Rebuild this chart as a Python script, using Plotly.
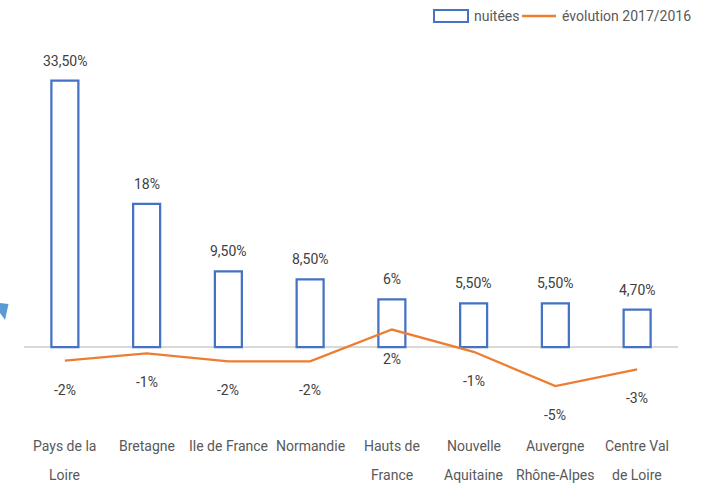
import plotly.graph_objects as go

categories = ["Pays de la<br>Loire", "Bretagne", "Ile de France", "Normandie",
              "Hauts de<br>France", "Nouvelle<br>Aquitaine", "Auvergne<br>Rhône-Alpes",
              "Centre Val<br>de Loire"]
nuitees = [33.5, 18, 9.5, 8.5, 6, 5.5, 5.5, 4.7]
nuitees_labels = ["33,50%", "18%", "9,50%", "8,50%", "6%", "5,50%", "5,50%", "4,70%"]
evolution = [-1.7, -0.8, -1.8, -1.8, 2.2, -0.6, -4.9, -2.8]
evolution_labels = ["-2%", "-1%", "-2%", "-2%", "2%", "-1%", "-5%", "-3%"]
series_names = ["nuitées", "évolution 2017/2016"]

FONT = "Roboto, sans-serif"
BLUE = "#4472C4"
ORANGE = "#ED7D31"

L, R, T, B = 24, 678, 40, 425
W, H = 713, 488

def px2paper(px, py):
    return (px - L) / (R - L), (B - py) / (B - T)

fig = go.Figure()
fig.add_trace(go.Bar(
    x=categories, y=nuitees, name=series_names[0],
    marker=dict(color="white", line=dict(color=BLUE, width=2.25)),
    width=0.33,
))
fig.add_trace(go.Scatter(
    x=categories, y=evolution, name=series_names[1], mode="lines",
    line=dict(color=ORANGE, width=2.25),
))

annotations = []
for c, v, t in zip(categories, nuitees, nuitees_labels):
    annotations.append(dict(x=c, y=v, text=t, showarrow=False, yshift=20,
                            font=dict(family=FONT, size=14, color="#404040")))
for c, v, t in zip(categories, evolution, evolution_labels):
    annotations.append(dict(x=c, y=v, text=t, showarrow=False, yshift=-29,
                            font=dict(family=FONT, size=14, color="#404040")))

# category labels (wide line spacing as in the original)
for c in categories:
    for i, line in enumerate(c.split("<br>")):
        _, yp = px2paper(0, 446 + 29 * i)
        annotations.append(dict(x=c, xref="x", yref="paper", y=yp, yanchor="middle",
                                text=line, showarrow=False,
                                font=dict(family=FONT, size=14, color="#595959")))

# custom legend
lx0, ly0 = px2paper(434, 10)
lx1, ly1 = px2paper(468, 22)
tx, ty = px2paper(472, 16)
ox0, oy = px2paper(522, 16)
ox1, _ = px2paper(556, 16)
t2x, _ = px2paper(560, 16)
shapes = [
    dict(type="rect", xref="paper", yref="paper", x0=lx0, y0=ly0, x1=lx1, y1=ly1,
         line=dict(color=BLUE, width=2), fillcolor="white"),
    dict(type="line", xref="paper", yref="paper", x0=ox0, y0=oy, x1=ox1, y1=oy,
         line=dict(color=ORANGE, width=2.5)),
]
annotations.append(dict(xref="paper", yref="paper", x=tx, y=ty, xanchor="left", yanchor="middle",
                        text=series_names[0], showarrow=False,
                        font=dict(family=FONT, size=14, color="#595959")))
annotations.append(dict(xref="paper", yref="paper", x=t2x, y=ty, xanchor="left", yanchor="middle",
                        text=series_names[1], showarrow=False,
                        font=dict(family=FONT, size=14, color="#595959")))

pts = [px2paper(0, 303), px2paper(8.5, 304), px2paper(5, 320), px2paper(0, 313)]
path = "M " + " L ".join(f"{x},{y}" for x, y in pts) + " Z"
shapes.append(dict(type="path", xref="paper", yref="paper", path=path,
                   fillcolor="#5B9BD5", line=dict(width=0)))

fig.update_layout(
    width=W, height=H,
    margin=dict(l=L, r=W - R, t=T, b=H - B, autoexpand=False),
    plot_bgcolor="white", paper_bgcolor="white",
    font=dict(family=FONT, size=14, color="#595959"),
    showlegend=False,
    xaxis=dict(showgrid=False, showline=False, ticks="", automargin=False,
               showticklabels=False),
    yaxis=dict(range=[-9.8, 38.6], showgrid=False, showticklabels=False, automargin=False,
               zeroline=True, zerolinecolor="#D9D9D9", zerolinewidth=1.5),
    annotations=annotations,
    shapes=shapes,
)

fig.write_html("out.html", config={"displayModeBar": False},
               post_script="document.body.style.margin='0';document.body.style.overflow='hidden';")
